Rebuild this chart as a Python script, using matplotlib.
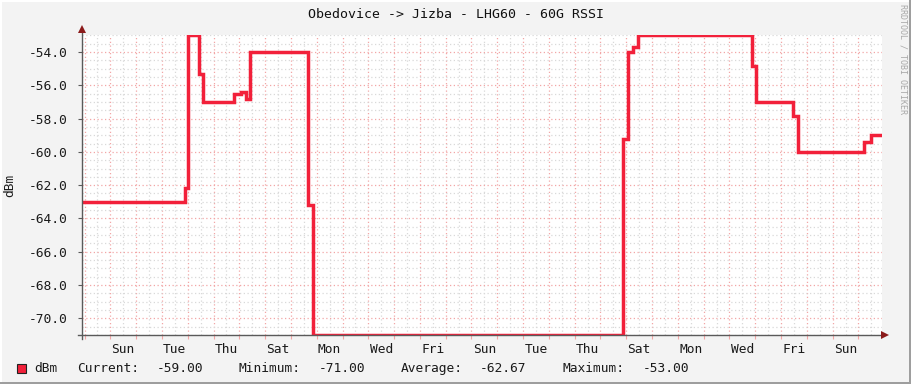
import numpy as np
import matplotlib.pyplot as plt
from matplotlib.ticker import MultipleLocator, FixedLocator
from matplotlib.patches import Rectangle
from matplotlib.lines import Line2D

#-----------------------------------------------------------------------------#
# data (days since first midnight on the chart, dBm)

t_days = [-0.11, 3.90, 4.03, 4.45, 4.61, 5.81, 6.07, 6.26, 6.42, 8.68, 8.85,
          20.88, 21.06, 21.26, 21.47, 25.87, 26.03, 27.46, 27.65, 30.23, 30.48, 30.84]
rssi = [-63.0, -62.2, -53.0, -55.3, -57.0, -56.5, -56.4, -56.85, -54.0, -63.2, -71.0,
        -59.2, -54.0, -53.7, -53.0, -54.85, -57.0, -57.85, -60.0, -59.4, -59.0, -59.0]

day_labels = ['Sun', 'Tue', 'Thu', 'Sat', 'Mon', 'Wed', 'Fri', 'Sun',
              'Tue', 'Thu', 'Sat', 'Mon', 'Wed', 'Fri', 'Sun']
label_pos = [1.5 + 2 * k for k in range(len(day_labels))]

title = 'Obedovice -> Jizba - LHG60 - 60G RSSI'
legend_items = ['dBm', 'Current:', '-59.00', 'Minimum:', '-71.00',
                'Average:', '-62.67', 'Maximum:', '-53.00']

#-----------------------------------------------------------------------------#
# look

W, H = 911, 384
BG = '#F3F3F3'
LINE = '#F2203A'
RED_GRID = '#F2A6A6'
GREY_GRID = '#D9D9D9'
AXIS = '#5A5A5A'
ARROW = '#8B1A1A'
MONO = 'DejaVu Sans Mono'

plt.rcParams['font.family'] = MONO

fig = plt.figure(figsize=(W / 100, H / 100), dpi=100, facecolor=BG)

def fx(px):
    return px / W

def fy(py):
    return 1 - py / H

left, right, top, bottom = 81.7, 881.7, 35.3, 335.0
ax = fig.add_axes([fx(left), fy(bottom), fx(right - left), (bottom - top) / H])
ax.set_facecolor('white')

ax.set_xlim(-0.109, 30.9)
ax.set_ylim(-71, -53)

# grid
ax.yaxis.set_major_locator(FixedLocator(np.arange(-70, -53, 2)))
ax.yaxis.set_minor_locator(MultipleLocator(0.5))
ax.yaxis.set_major_formatter(lambda v, p: '%.1f' % v)
ax.xaxis.set_major_locator(MultipleLocator(1))
ax.xaxis.set_minor_locator(MultipleLocator(0.5))
ax.xaxis.set_major_formatter(lambda v, p: '')
ax.grid(which='minor', color=GREY_GRID, ls=(0, (1, 2)), lw=0.9, zorder=0)
ax.grid(which='major', color=RED_GRID, ls=(0, (1, 2)), lw=0.9, zorder=0)
ax.set_axisbelow(True)

ax.tick_params(axis='y', which='major', length=3, color=AXIS, labelsize=9.3,
               pad=7, labelcolor='#1A1A1A')
ax.tick_params(axis='y', which='minor', length=0)
ax.tick_params(axis='x', which='major', length=3, color=RED_GRID)
ax.tick_params(axis='x', which='minor', length=0)

for s in ax.spines.values():
    s.set_visible(False)

# x labels centred on the day
for x, lab in zip(label_pos, day_labels):
    ax.text(x, -0.028, lab, transform=ax.get_xaxis_transform(), ha='center',
            va='top', fontsize=9.3, color='#1A1A1A')

# data
ax.plot(t_days, rssi, drawstyle='steps-post', color=LINE, lw=2.5,
        solid_joinstyle='miter', zorder=3)

# axis lines with arrows
fig.add_artist(Line2D([fx(left), fx(left)], [fy(bottom + 4), fy(top - 4)], color=AXIS, lw=1))
fig.add_artist(Line2D([fx(left - 4), fx(right + 2)], [fy(bottom), fy(bottom)], color=AXIS, lw=1))
fig.add_artist(Line2D([fx(left)], [fy(top - 6)], marker='^', ms=6, color=ARROW, mew=0))
fig.add_artist(Line2D([fx(right + 3)], [fy(bottom)], marker='>', ms=6, color=ARROW, mew=0))

# texts
fig.text(0.5, fy(14), title, ha='center', va='center', fontsize=9.5, color='#111111')
fig.text(fx(10), fy((top + bottom) / 2), 'dBm', rotation=90, ha='center',
         va='center', fontsize=9.3, color='#1A1A1A')
fig.text(fx(903), fy(4), 'RRDTOOL / TOBI OETIKER', rotation=270, ha='center',
         va='top', fontsize=6, color='#A8A8A8')

# legend
fig.add_artist(Rectangle((fx(17.3), fy(373.3)), fx(8.7), 9.0 / H, facecolor=LINE,
                         edgecolor='#222222', lw=0.8))
legend_x = [34.3, 76.7, 156.7, 238.3, 319.0, 401.0, 480.0, 562.7, 642.3]
for x, txt in zip(legend_x, legend_items):
    fig.text(fx(x), fy(368.5), txt, ha='left', va='center', fontsize=9.3, color='#1A1A1A')

# 3d frame of the canvas
fig.add_artist(Rectangle((0, 1 - 2 / H), 1, 2 / H, color='white', lw=0))
fig.add_artist(Rectangle((0, 0), 2 / W, 1, color='white', lw=0))
fig.add_artist(Rectangle((0, 0), 1, 2 / H, color='#9E9E9E', lw=0))
fig.add_artist(Rectangle((1 - 2 / W, 0), 2 / W, 1, color='#9E9E9E', lw=0))

fig.savefig('out.png', dpi=100, facecolor=BG)
